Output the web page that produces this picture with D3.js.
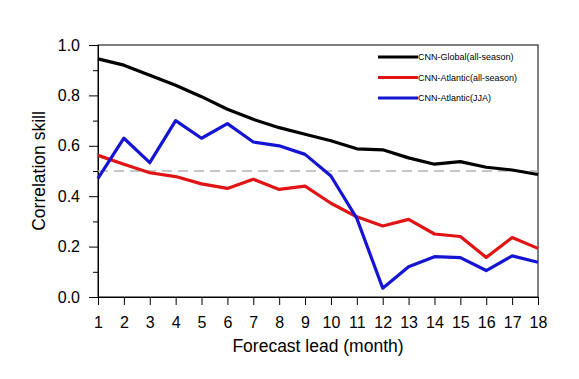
<!DOCTYPE html>
<html><head><meta charset="utf-8">
<script src="https://cdn.jsdelivr.net/npm/d3@7"></script>
<style>body{margin:0;background:#fff}svg{display:block;font-family:"Liberation Sans",Arial,sans-serif}</style>
</head><body><svg id="c" width="579" height="379"></svg>
<script>
const leads = [1,2,3,4,5,6,7,8,9,10,11,12,13,14,15,16,17,18];
const globalAll = [0.945,0.92,0.88,0.84,0.795,0.745,0.705,0.672,0.646,0.62,0.588,0.584,0.552,0.527,0.537,0.515,0.504,0.486];
const atlanticAll = [0.562,0.527,0.493,0.478,0.449,0.431,0.467,0.427,0.440,0.372,0.318,0.282,0.308,0.250,0.240,0.157,0.236,0.193];
const atlanticJJA = [0.471,0.630,0.533,0.700,0.630,0.688,0.615,0.600,0.566,0.480,0.312,0.035,0.120,0.160,0.156,0.105,0.163,0.138];
const seriesNames = ["CNN-Global(all-season)","CNN-Atlantic(all-season)","CNN-Atlantic(JJA)"];
const seriesColors = ["#000000","#e01414","#1414d2"];
const yTicks = [0,0.2,0.4,0.6,0.8,1.0];
const refLine = 0.5;

const svg = d3.select("#c");
const L=98,R=538,T=45,B=297;
const x = d3.scaleLinear().domain([1,18]).range([L,R]);
const y = d3.scaleLinear().domain([0,1]).range([B,T]);

svg.append("rect").attr("x",L).attr("y",T).attr("width",R-L).attr("height",B-T)
  .attr("fill","none").attr("stroke","#000").attr("stroke-width",1);

svg.append("g").attr("transform",`translate(0,${B})`)
  .call(d3.axisBottom(x).tickValues(leads).tickFormat(d3.format("d")).tickSize(8).tickPadding(12));
svg.append("g").attr("transform",`translate(${L},0)`)
  .call(d3.axisLeft(y).tickValues(yTicks).tickFormat(d3.format(".1f")).tickSize(9).tickPadding(9));
svg.append("g").attr("transform",`translate(${L},0)`)
  .call(d3.axisLeft(y).tickValues(d3.range(0.1,1,0.2)).tickFormat("").tickSize(5))
  .select(".domain").remove();
svg.selectAll(".domain").attr("stroke","#000");
svg.selectAll(".tick line").attr("stroke","#000");
svg.selectAll(".tick text").attr("font-size",16).attr("fill","#000").attr("font-family","Liberation Sans, Arial, sans-serif");

svg.append("line").attr("x1",L).attr("x2",R).attr("y1",y(refLine)).attr("y2",y(refLine))
  .attr("stroke","#b4b4b4").attr("stroke-width",1.5).attr("stroke-dasharray","10,6");

const line = d3.line().x((d,i)=>x(leads[i])).y(d=>y(d));
[globalAll,atlanticAll,atlanticJJA].forEach((s,k)=>{
  svg.append("path").datum(s).attr("d",line).attr("fill","none")
    .attr("stroke",seriesColors[k]).attr("stroke-width",3.2).attr("stroke-linejoin","round");
});

const lg = svg.append("g");
seriesNames.forEach((n,k)=>{
  const yy = 57 + k*20.5;
  lg.append("line").attr("x1",378).attr("x2",418).attr("y1",yy).attr("y2",yy)
    .attr("stroke",seriesColors[k]).attr("stroke-width",3);
  lg.append("text").attr("x",418).attr("y",yy).attr("dy","0.35em").attr("font-size",9)
    .attr("fill","#000").text(n);
});

svg.append("text").attr("x",(L+R)/2).attr("y",352).attr("text-anchor","middle")
  .attr("font-size",17.5).text("Forecast lead (month)");
svg.append("text").attr("transform",`translate(45,${(T+B)/2}) rotate(-90)`)
  .attr("text-anchor","middle").attr("font-size",17.5).text("Correlation skill");
</script></body></html>
